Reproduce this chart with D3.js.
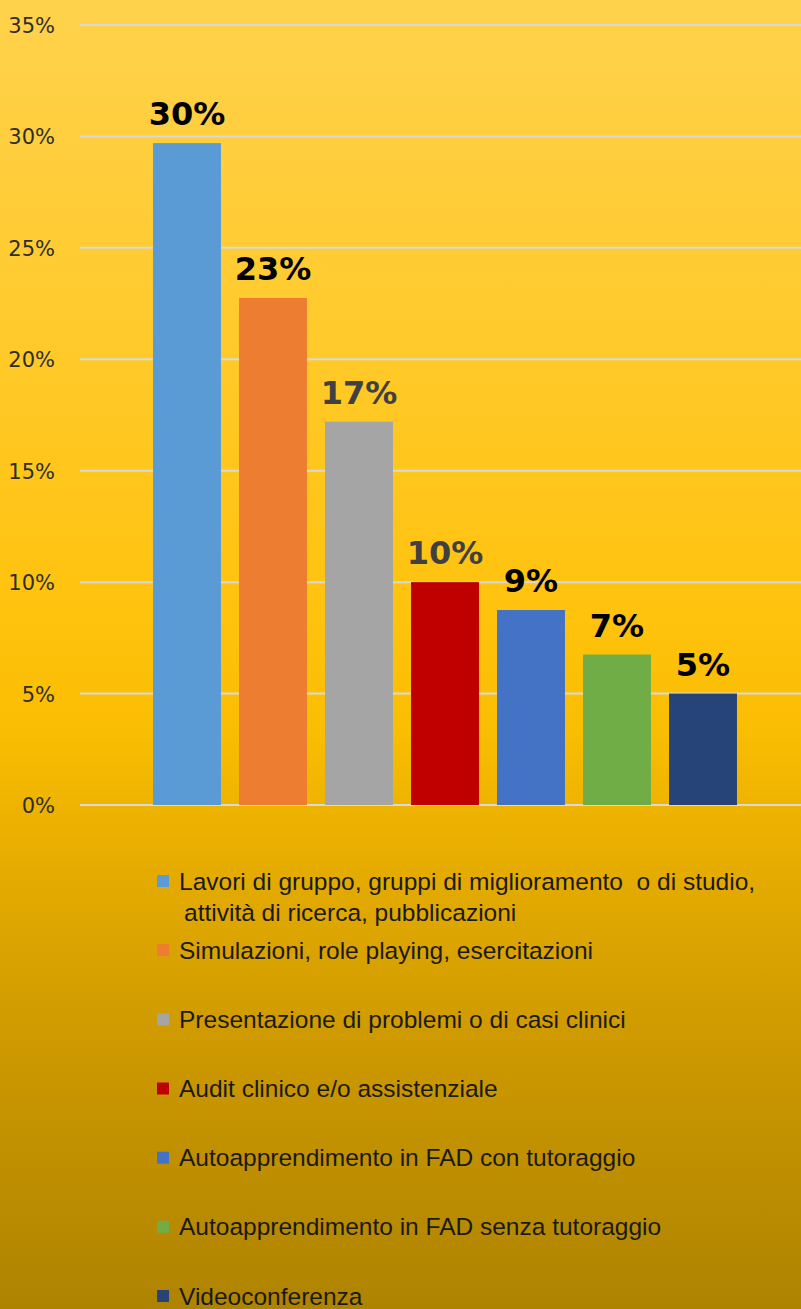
<!DOCTYPE html>
<html><head><meta charset="utf-8">
<script src="https://cdn.jsdelivr.net/npm/d3@7"></script>
<style>html,body{margin:0;padding:0;background:#fff;}svg{display:block;}</style>
</head><body>
<div id="chart"></div>
<script>
const categories = [
  "Lavori di gruppo, gruppi di miglioramento  o di studio,",
  "Simulazioni, role playing, esercitazioni",
  "Presentazione di problemi o di casi clinici",
  "Audit clinico e/o assistenziale",
  "Autoapprendimento in FAD con tutoraggio",
  "Autoapprendimento in FAD senza tutoraggio",
  "Videoconferenza"
];
const categoryExtraLine = ["attività di ricerca, pubblicazioni", "", "", "", "", "", ""];
const values = [29.7, 22.75, 17.2, 10.0, 8.75, 6.75, 5.0];
const valueLabels = ["30%", "23%", "17%", "10%", "9%", "7%", "5%"];
const tickValues = [0, 5, 10, 15, 20, 25, 30, 35];
const tickLabels = ["0%", "5%", "10%", "15%", "20%", "25%", "30%", "35%"];
const barColors = ["#5B9BD5", "#ED7D31", "#A5A5A5", "#C00000", "#4472C4", "#70AD47", "#264478"];
const labelColors = ["#000", "#000", "#404040", "#404040", "#000", "#000", "#000"];

const W = 801, H = 1309;
const svg = d3.select("#chart").append("svg").attr("width", W).attr("height", H);

const defs = svg.append("defs");
const grad = defs.append("linearGradient").attr("id", "bg").attr("x1", 0).attr("y1", 0).attr("x2", 0).attr("y2", 1);
[[0, "#FFD24C"], [0.25, "#FFCA2C"], [0.48, "#FFC20C"], [0.56, "#F9BD02"], [0.66, "#E6AC00"], [0.8, "#CD9900"], [1, "#AE8300"]]
  .forEach(([o, c]) => grad.append("stop").attr("offset", o).attr("stop-color", c));
svg.append("rect").attr("width", W).attr("height", H).attr("fill", "url(#bg)");

const y = d3.scaleLinear().domain([0, 35]).range([805, 25]);
const x = d3.scaleBand().domain(d3.range(categories.length)).range([144, 746]).paddingInner(0.21).paddingOuter(0.105);

const yAxis = d3.axisLeft(y).tickValues(tickValues).tickFormat((d, i) => tickLabels[i]).tickSize(0).tickPadding(0);
const gAxis = svg.append("g").attr("transform", "translate(55,0)").call(yAxis);
gAxis.select(".domain").remove();
gAxis.selectAll("text").attr("font-family", "DejaVu Sans, Verdana, sans-serif").attr("font-size", 21).attr("fill", "#2e2e2e").attr("dy", "0.36em");

svg.append("g").selectAll("line").data(tickValues).join("line")
  .attr("x1", 80).attr("x2", W).attr("y1", d => y(d)).attr("y2", d => y(d))
  .attr("stroke", "#D9D9D9").attr("stroke-width", 2);

svg.append("g").selectAll("rect").data(values).join("rect")
  .attr("x", (d, i) => x(i)).attr("width", x.bandwidth())
  .attr("y", d => y(d)).attr("height", d => y(0) - y(d))
  .attr("fill", (d, i) => barColors[i]);

svg.append("g").selectAll("text").data(values).join("text")
  .attr("x", (d, i) => x(i) + x.bandwidth() / 2).attr("y", d => y(d) - 18)
  .attr("text-anchor", "middle").attr("font-family", "DejaVu Sans, Verdana, sans-serif")
  .attr("font-weight", "bold").attr("font-size", 32)
  .attr("fill", (d, i) => labelColors[i]).text((d, i) => valueLabels[i]);

const legY = d3.scalePoint().domain(d3.range(categories.length)).range([881, 1296]);
const leg = svg.append("g");
const legFont = "Liberation Sans Narrow, Arial Narrow, sans-serif";
categories.forEach((c, i) => {
  const cy = legY(i);
  leg.append("rect").attr("x", 157).attr("y", cy - 6).attr("width", 12).attr("height", 12).attr("fill", barColors[i]);
  leg.append("text").attr("x", 179).attr("y", cy).attr("dy", "0.35em").style("white-space", "pre")
    .attr("font-family", legFont).attr("font-size", 24.5).attr("fill", "#1a1a1a").text(c);
  if (categoryExtraLine[i]) {
    leg.append("text").attr("x", 184).attr("y", cy + 31).attr("dy", "0.35em")
      .attr("font-family", legFont).attr("font-size", 24.5).attr("fill", "#1a1a1a").text(categoryExtraLine[i]);
  }
});
</script>
</body></html>
